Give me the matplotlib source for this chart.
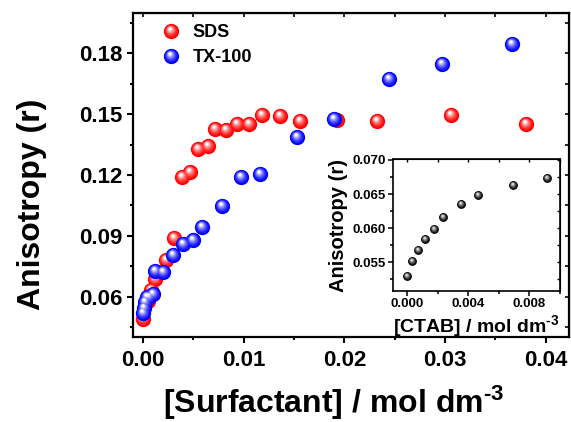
import matplotlib
matplotlib.use("Agg")
import matplotlib.pyplot as plt
import numpy as np
from matplotlib.markers import MarkerStyle
from matplotlib.transforms import Affine2D
from matplotlib.colors import to_rgb
from matplotlib.ticker import MultipleLocator

plt.rcParams["font.family"] = ["Liberation Sans", "DejaVu Sans"]
plt.rcParams["font.weight"] = "bold"
plt.rcParams["axes.labelweight"] = "bold"
plt.rcParams["mathtext.fontset"] = "custom"
plt.rcParams["mathtext.rm"] = "Liberation Sans:bold"
plt.rcParams["mathtext.default"] = "rm"

# anisotropy vs surfactant concentration
sds_conc = [0.0, 0.0005, 0.0008, 0.0012, 0.0023, 0.0031, 0.0039, 0.0047, 0.0055, 0.0064,
            0.0071, 0.0082, 0.0093, 0.0105, 0.0118, 0.0136, 0.0156, 0.0193, 0.0232,
            0.0306, 0.0380]
sds_r = [0.0490, 0.0580, 0.0630, 0.0687, 0.0781, 0.0888, 0.1189, 0.1214, 0.1330, 0.1341,
         0.1428, 0.1423, 0.1453, 0.1450, 0.1494, 0.1490, 0.1466, 0.1470, 0.1466,
         0.1494, 0.1453]

tx_conc = [0.0, 0.0001, 0.0002, 0.0004, 0.0006, 0.0010, 0.0012, 0.0020, 0.0030, 0.0040,
           0.0050, 0.0059, 0.0078, 0.0097, 0.0116, 0.0153, 0.0190, 0.0244, 0.0297,
           0.0366]
tx_r = [0.0520, 0.0545, 0.0572, 0.0600, 0.0597, 0.0613, 0.0724, 0.0720, 0.0806, 0.0857,
        0.0877, 0.0942, 0.1045, 0.1189, 0.1206, 0.1387, 0.1478, 0.1672, 0.1750,
        0.1845]

# inset: CTAB
ctab_conc = [0.0, 0.00035, 0.00072, 0.0012, 0.00177, 0.00236, 0.0035, 0.00466, 0.00695, 0.00918]
ctab_r = [0.0529, 0.0551, 0.0568, 0.0584, 0.0599, 0.0616, 0.0636, 0.0649, 0.0663, 0.0674]


def sphere(ax, x, y, color, ms, n=9):
    """Draw shaded ball markers, return list of line layers."""
    base = np.array(to_rgb(color))
    layers = []
    for i in range(n + 1):
        t = i / n
        s = 1.0 - 0.82 * t
        col = base + (1 - base) * t ** 1.6
        if color == "black":
            col = base + (1 - base) * (0.9 * t ** 1.4)
        m = MarkerStyle("o", transform=Affine2D().scale(s).translate(-0.10 * t, 0.17 * t))
        ln, = ax.plot(x, y, ls="none", marker=m, ms=ms, mew=0, color=col, zorder=3)
        layers.append(ln)
    return layers


fig = plt.figure(figsize=(5.71, 4.22), dpi=100)
ax = fig.add_axes([0.2329, 0.2014, 0.7636, 0.7678])

red = sphere(ax, sds_conc, sds_r, "#ff0000", 11)
blue = sphere(ax, tx_conc, tx_r, "#0000ff", 11)

ax.set_xlim(-0.001, 0.0423)
ax.set_ylim(0.04, 0.2)
ax.xaxis.set_minor_locator(MultipleLocator(0.005))
ax.yaxis.set_minor_locator(MultipleLocator(0.015))
ax.set_xticks([0.0, 0.01, 0.02, 0.03, 0.04], ["0.00", "0.01", "0.02", "0.03", "0.04"])
ax.set_yticks([0.06, 0.09, 0.12, 0.15, 0.18], ["0.06", "0.09", "0.12", "0.15", "0.18"])
ax.tick_params(which="both", direction="out", width=1.5, labelsize=16)
ax.tick_params(axis="x", pad=5)
ax.tick_params(axis="y", pad=3)
ax.tick_params(which="major", length=4.5)
ax.tick_params(which="minor", length=2.5)
for sp in ax.spines.values():
    sp.set_linewidth(1.6)

# mirrored inward ticks on top and right
axt = ax.secondary_xaxis("top")
axt.xaxis.set_major_locator(MultipleLocator(0.005))
axt.tick_params(direction="in", length=3, width=1.2, labeltop=False)
axr = ax.secondary_yaxis("right")
axr.yaxis.set_major_locator(MultipleLocator(0.015))
axr.tick_params(direction="in", length=3, width=1.2, labelright=False)

ax.set_xlabel("[Surfactant] / mol dm$^{\u2010 3}$", fontsize=23, fontweight="bold", labelpad=9)
ax.set_ylabel("Anisotropy (r)", fontsize=23, fontweight="bold", labelpad=23)
ax.xaxis.label.set_x(0.461)
ax.yaxis.label.set_y(0.41)

ax.legend([tuple(red), tuple(blue)], ["SDS", "TX-100"], loc="upper left",
          bbox_to_anchor=(0.025, 1.015), frameon=False, fontsize=13,
          handlelength=1.2, handletextpad=0.6, labelspacing=0.42, numpoints=1)

# inset
axi = fig.add_axes([0.6888, 0.3111, 0.2919, 0.3114])
sphere(axi, ctab_conc, ctab_r, "black", 6.3)
axi.set_xlim(-0.0009, 0.01)
axi.set_ylim(0.0508, 0.0701)
axi.set_xticks([0.0, 0.004, 0.008], ["0.000", "0.004", "0.008"])
axi.set_yticks([0.055, 0.060, 0.065, 0.070], ["0.055", "0.060", "0.065", "0.070"])
axi.xaxis.set_minor_locator(MultipleLocator(0.002))
axi.yaxis.set_minor_locator(MultipleLocator(0.0025))
axi.tick_params(which="both", direction="out", width=1.1, labelsize=9.5, pad=2)
axi.tick_params(which="major", length=3.5)
axi.tick_params(which="minor", length=2)
for sp in axi.spines.values():
    sp.set_linewidth(1.2)
ait = axi.secondary_xaxis("top")
ait.xaxis.set_major_locator(MultipleLocator(0.002))
ait.tick_params(direction="in", length=2.5, width=1, labeltop=False)
air = axi.secondary_yaxis("right")
air.yaxis.set_major_locator(MultipleLocator(0.0025))
air.tick_params(direction="in", length=2.5, width=1, labelright=False)
axi.set_xlabel("[CTAB] / mol dm$^{\u2010 3}$", fontsize=14, fontweight="bold", labelpad=2)
axi.set_ylabel("Anisotropy (r)", fontsize=14.5, fontweight="bold", labelpad=3)

fig.savefig("out.png", dpi=100)
